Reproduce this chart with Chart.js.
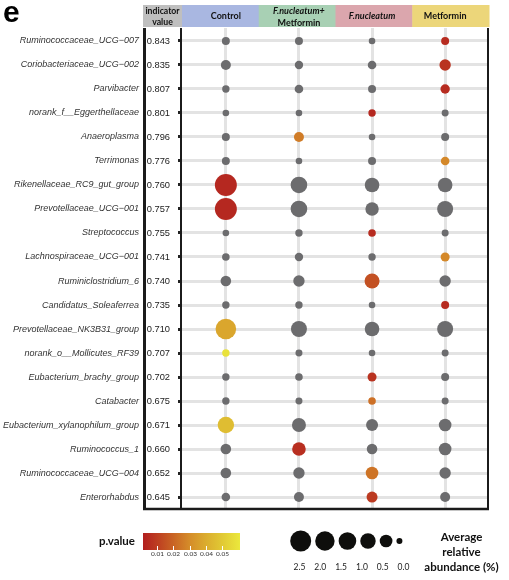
<!DOCTYPE html>
<html>
<head>
<meta charset="utf-8">
<script src="https://cdn.jsdelivr.net/npm/chart.js@4.4.1/dist/chart.umd.min.js"></script>
<style>
html, body { margin: 0; padding: 0; background: #fff; }
canvas { display: block; }
</style>
</head>
<body>
<canvas id="myChart" width="509" height="580"></canvas>
<script>
// groups (columns) and genera (rows, top to bottom)
const groups = ['Control', 'F.nucleatum+Metformin', 'F.nucleatum', 'Metformin'];
const genera = [
    'Ruminococcaceae_UCG\u2212007', 'Coriobacteriaceae_UCG\u2212002', 'Parvibacter',
    'norank_f__Eggerthellaceae', 'Anaeroplasma', 'Terrimonas', 'Rikenellaceae_RC9_gut_group',
    'Prevotellaceae_UCG\u2212001', 'Streptococcus', 'Lachnospiraceae_UCG\u2212001',
    'Ruminiclostridium_6', 'Candidatus_Soleaferrea', 'Prevotellaceae_NK3B31_group',
    'norank_o__Mollicutes_RF39', 'Eubacterium_brachy_group', 'Catabacter',
    'Eubacterium_xylanophilum_group', 'Ruminococcus_1', 'Ruminococcaceae_UCG\u2212004', 'Enterorhabdus'
];
const indicatorValues = [0.843, 0.835, 0.807, 0.801, 0.796, 0.776, 0.760, 0.757, 0.755, 0.741,
    0.740, 0.735, 0.710, 0.707, 0.702, 0.675, 0.671, 0.660, 0.652, 0.645];

// average relative abundance (%) per group
const abundControl = [0.044, 0.178, 0.022, 0.004, 0.044, 0.044, 2.84, 2.84, 0.004, 0.028,
    0.235, 0.022, 2.37, 0.022, 0.022, 0.022, 1.2, 0.235, 0.235, 0.075];
const abundFnMet = [0.044, 0.064, 0.075, 0.004, 0.178, 0.004, 1.25, 1.25, 0.022, 0.064,
    0.324, 0.022, 1.11, 0.011, 0.028, 0.011, 0.711, 0.642, 0.324, 0.178];
const abundFn = [0.004, 0.075, 0.044, 0.022, 0.004, 0.044, 0.822, 0.608, 0.028, 0.022,
    0.9, 0.004, 0.822, 0.004, 0.1, 0.028, 0.4, 0.235, 0.484, 0.278];
const abundMet = [0.044, 0.324, 0.128, 0.011, 0.044, 0.075, 0.822, 1.11, 0.011, 0.1,
    0.324, 0.044, 1.11, 0.011, 0.044, 0.011, 0.484, 0.484, 0.324, 0.178];

// p values (null = not significant, drawn grey)
const pControl = [null, null, null, null, null, null, 0.004, 0.004, null, null,
    null, null, 0.038, 0.059, null, null, 0.046, null, null, null];
const pFnMet = [null, null, null, null, 0.026, null, null, null, null, null,
    null, null, null, null, null, null, null, 0.006, null, null];
const pFn = [null, null, null, 0.004, null, null, null, null, 0.005, null,
    0.015, null, null, null, 0.007, 0.023, null, null, 0.024, 0.009];
const pMet = [0.005, 0.007, 0.005, null, null, 0.029, null, null, null, 0.029,
    null, 0.005, null, null, null, null, null, null, null, null];

// legend content
const sizeBreaks = [2.5, 2.0, 1.5, 1.0, 0.5, 0.0];
const pTicks = [0.01, 0.02, 0.03, 0.04, 0.05];
const pStops = [[0.0014, '#b21f1f'], [0.01, '#bd3d21'], [0.02, '#c96424'], [0.03, '#d58c29'],
    [0.04, '#dbac2e'], [0.05, '#e1c934'], [0.061, '#ebe83c']];

const GREY = '#6c6c6e';
const sizeOf = v => 3 + 7.5 * Math.sqrt(v / 2.5);

function hex2rgb(h) {
    return [1, 3, 5].map(i => parseInt(h.substr(i, 2), 16));
}
function colorOf(p) {
    if (p === null) return GREY;
    for (let i = 1; i < pStops.length; i++) {
        if (p <= pStops[i][0] || i === pStops.length - 1) {
            const [p0, c0] = pStops[i - 1], [p1, c1] = pStops[i];
            const t = Math.max(0, Math.min(1, (p - p0) / (p1 - p0)));
            const a = hex2rgb(c0), b = hex2rgb(c1);
            return 'rgb(' + a.map((v, k) => Math.round(v + (b[k] - v) * t)).join(',') + ')';
        }
    }
}

const abund = [abundControl, abundFnMet, abundFn, abundMet];
const pvals = [pControl, pFnMet, pFn, pMet];

const datasets = groups.map((g, gi) => ({
    label: g,
    data: abund[gi].map((v, row) => ({ x: gi, y: row, r: sizeOf(v) })),
    backgroundColor: pvals[gi].map(colorOf),
    borderWidth: 0
}));

const headColors = ['#a9b7e1', '#a8d0b4', '#dba6ad', '#ecd67a'];
const LATO = 'Lato, "Open Sans", sans-serif';

const decor = {
    id: 'decor',
    afterDraw(chart) {
        const { ctx, chartArea: a, scales } = chart;
        const xs = scales.x;
        ctx.save();

        // panel letter
        ctx.fillStyle = '#000';
        ctx.font = 'bold 30px "Liberation Sans", Arial, sans-serif';
        ctx.textAlign = 'left';
        ctx.textBaseline = 'alphabetic';
        ctx.fillText('e', 3, 22);

        // header boxes
        const top = 5, bot = a.top - 1;
        const leftBox = scales.y.right - 1;
        ctx.fillStyle = '#bfbfbf';
        ctx.fillRect(leftBox, top, a.left - leftBox, bot - top);
        const w = (a.right - a.left) / groups.length;
        headColors.forEach((c, i) => {
            ctx.fillStyle = c;
            ctx.fillRect(a.left + i * w, top, w + 0.5, bot - top);
        });
        ctx.fillStyle = '#111';
        ctx.textAlign = 'center';
        ctx.textBaseline = 'middle';
        ctx.font = 'bold 8.7px ' + LATO;
        const cx0 = (leftBox + a.left) / 2;
        ctx.fillText('indicator', cx0, 11);
        ctx.fillText('value', cx0, 22);
        const mid = (top + bot) / 2;
        ctx.font = 'bold 9px ' + LATO;
        ctx.fillText('Control', xs.getPixelForValue(0), mid);
        ctx.font = 'italic bold 9px ' + LATO;
        ctx.fillText('F.nucleatum+', xs.getPixelForValue(1), 11);
        ctx.font = 'bold 9px ' + LATO;
        ctx.fillText('Metformin', xs.getPixelForValue(1), 23);
        ctx.font = 'italic bold 9px ' + LATO;
        ctx.fillText('F.nucleatum', xs.getPixelForValue(2), mid);
        ctx.font = 'bold 9px ' + LATO;
        ctx.fillText('Metformin', xs.getPixelForValue(3), mid);

        // frame
        ctx.strokeStyle = '#1b1b1b';
        ctx.lineWidth = 3;
        ctx.beginPath();
        ctx.moveTo(leftBox + 1.5, a.top);
        ctx.lineTo(leftBox + 1.5, a.bottom);
        ctx.stroke();
        ctx.lineWidth = 2;
        ctx.beginPath();
        ctx.moveTo(a.left - 1, a.top);
        ctx.lineTo(a.left - 1, a.bottom);
        ctx.moveTo(a.right - 1, a.top);
        ctx.lineTo(a.right - 1, a.bottom);
        ctx.stroke();
        ctx.lineWidth = 2.5;
        ctx.beginPath();
        ctx.moveTo(leftBox, a.bottom - 1);
        ctx.lineTo(a.right, a.bottom - 1);
        ctx.stroke();

        // p.value colour bar
        const barL = 143, barR = 240, barT = 533, barB = 550;
        const pToX = p => 157 + (p - 0.01) * 1625;
        const grad = ctx.createLinearGradient(barL, 0, barR, 0);
        pStops.forEach(([p, c]) => {
            grad.addColorStop(Math.max(0, Math.min(1, (pToX(p) - barL) / (barR - barL))), c);
        });
        ctx.fillStyle = grad;
        ctx.fillRect(barL, barT, barR - barL, barB - barT);
        ctx.strokeStyle = '#fff';
        ctx.lineWidth = 1;
        ctx.fillStyle = '#333';
        ctx.font = '6.5px ' + LATO;
        ctx.textBaseline = 'middle';
        pTicks.forEach(p => {
            const x = Math.round(pToX(p)) + 0.5;
            ctx.beginPath();
            ctx.moveTo(x, barB - 4);
            ctx.lineTo(x, barB);
            ctx.stroke();
            ctx.fillText(p.toFixed(2), x, 554);
        });
        ctx.fillStyle = '#111';
        ctx.font = 'bold 11.5px ' + LATO;
        ctx.textAlign = 'right';
        ctx.fillText('p.value', 135, 541);

        // size legend: circles packed left to right, labels evenly spaced below
        let x = 300.7;
        ctx.textAlign = 'center';
        sizeBreaks.forEach((v, i) => {
            const r = sizeOf(v);
            if (i > 0) x += r;
            ctx.fillStyle = '#0e0e0c';
            ctx.beginPath();
            ctx.arc(x, 541, r, 0, Math.PI * 2);
            ctx.fill();
            ctx.fillStyle = '#222';
            ctx.font = '8.5px ' + LATO;
            ctx.fillText(v.toFixed(1), 299.5 + i * 20.8, 567);
            x += r + 4;
        });
        ctx.fillStyle = '#111';
        ctx.font = 'bold 11.5px ' + LATO;
        ctx.fillText('Average', 461.5, 537);
        ctx.fillText('relative', 461.5, 552);
        ctx.fillText('abundance (%)', 461.5, 567);

        ctx.restore();
    }
};

const myChart = document.getElementById('myChart');

new Chart(myChart, {
    type: 'bubble',
    data: { datasets: datasets },
    plugins: [decor],
    options: {
        responsive: false,
        animation: false,
        layout: { padding: { top: 28, right: 20, bottom: 70, left: 0 } },
        plugins: {
            legend: { display: false },
            tooltip: { enabled: false }
        },
        scales: {
            x: {
                type: 'linear',
                position: 'top',
                min: -0.6,
                max: 3.6,
                ticks: { display: false, stepSize: 1, includeBounds: false },
                grid: { color: '#e3e3e3', lineWidth: 3, drawTicks: false },
                border: { display: false },
                afterFit: s => { s.height = 0; }
            },
            y: {
                type: 'linear',
                position: 'left',
                weight: 1,
                reverse: true,
                min: -0.54,
                max: 19.54,
                ticks: {
                    stepSize: 1,
                    includeBounds: false,
                    autoSkip: false,
                    padding: 5,
                    color: '#333',
                    font: { family: '"Liberation Sans", Arial, sans-serif', style: 'italic', size: 9 },
                    callback: v => genera[Math.round(v)]
                },
                grid: { color: '#e3e3e3', lineWidth: 3, drawTicks: false },
                border: { display: false },
                afterFit: s => { s.width = 144; }
            },
            yVal: {
                type: 'linear',
                position: 'left',
                weight: 0,
                reverse: true,
                min: -0.54,
                max: 19.54,
                ticks: {
                    stepSize: 1,
                    includeBounds: false,
                    autoSkip: false,
                    padding: 8,
                    color: '#222',
                    font: { family: '"Liberation Sans", Arial, sans-serif', size: 9.3 },
                    callback: v => indicatorValues[Math.round(v)].toFixed(3)
                },
                grid: { drawOnChartArea: false, tickLength: 4, tickWidth: 3, tickColor: '#222' },
                border: { display: false },
                afterFit: s => { s.width = 38; }
            }
        }
    }
});
</script>
</body>
</html>
